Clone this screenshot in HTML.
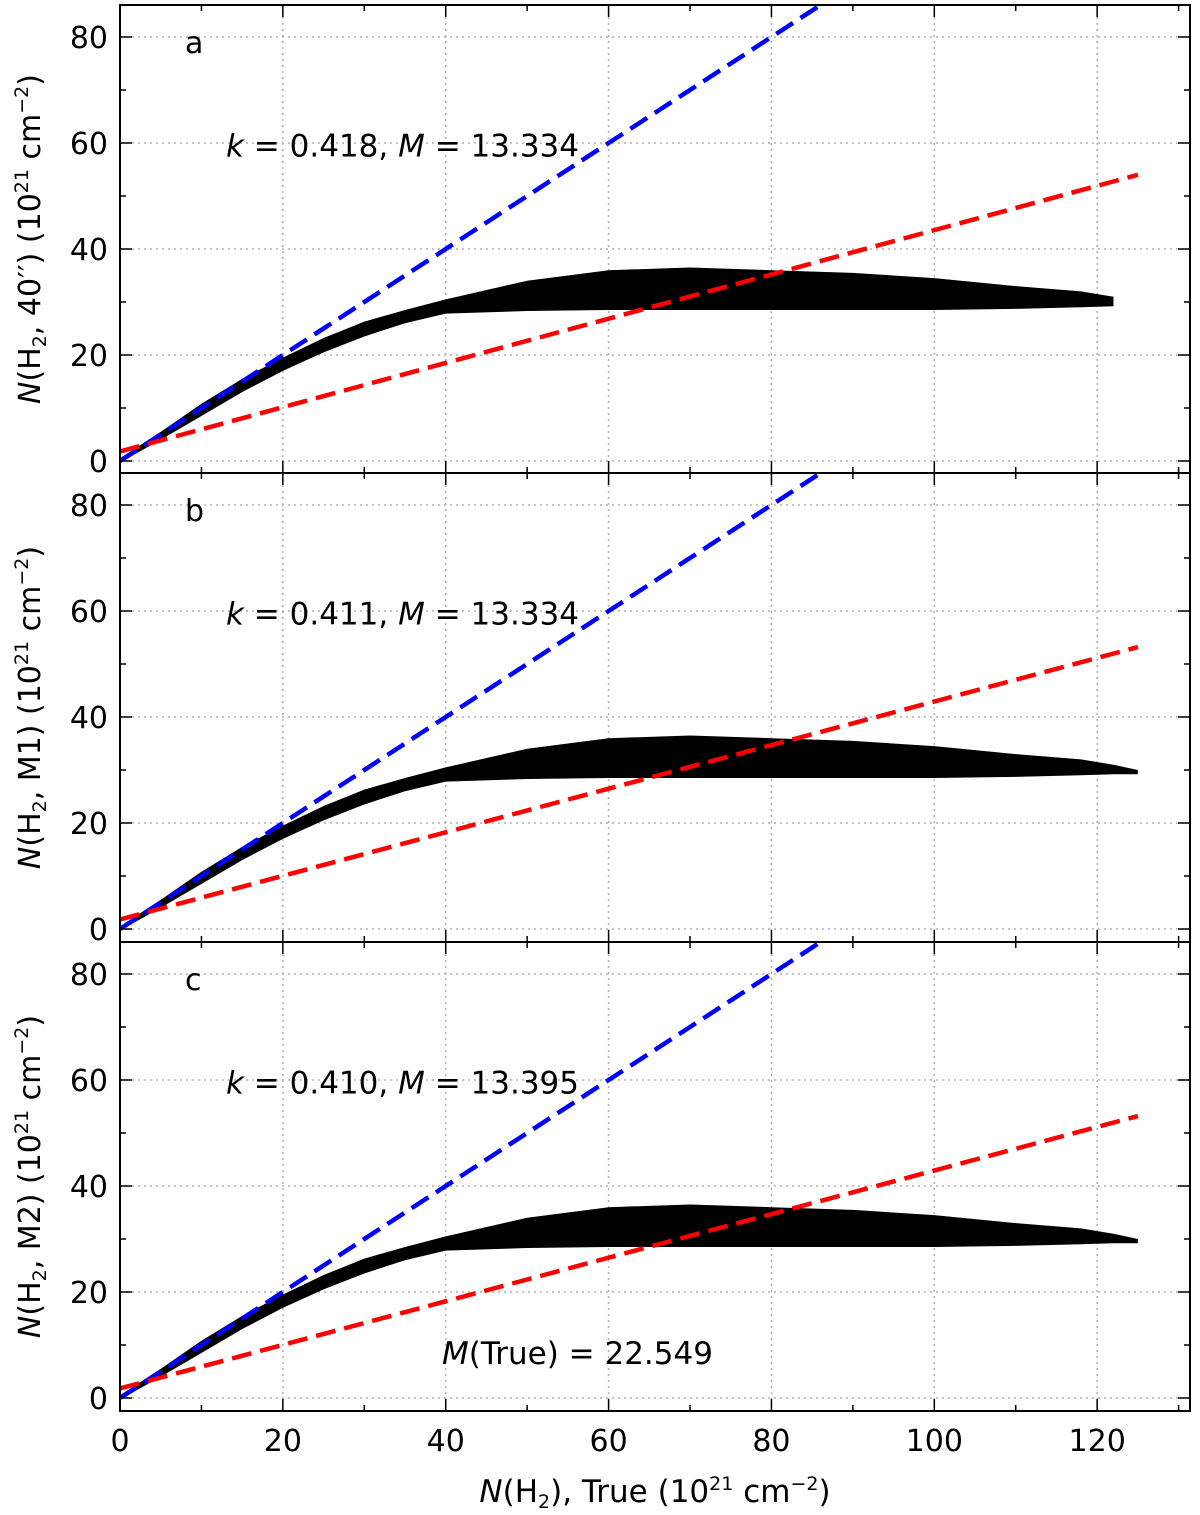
<!DOCTYPE html>
<html><head><meta charset="utf-8">
<style>
body{margin:0;background:#fff;}
svg{display:block;font-family:"DejaVu Sans","Liberation Sans",sans-serif;}
</style></head>
<body>
<svg id="chart" width="1200" height="1515" viewBox="0 0 1200 1515" xmlns="http://www.w3.org/2000/svg"></svg>
<script>
const xTicks=[0,20,40,60,80,100,120];
const yTicks=[0,20,40,60,80];
const panelLabels=['a','b','c'];
const kValues=['0.418','0.411','0.410'];
const mValues=['13.334','13.334','13.395'];
const yLabels=['40′′)','M1)','M2)'];
const redIntercepts=[1.8,1.8,1.8];
const redEnds=[54,53.2,53.2];
const redEndX=[125,125,125];
const blueSlope=[1.0,1.0,1.0];
const bandX=[0,5,10,15,20,25,30,35,40,50,60,70,80,90,100,110,118,122,125];
const bandUpper=[0.5,5.5,10.8,15.5,19.5,23.2,26.3,28.5,30.5,34,36,36.5,36,35.5,34.5,33,32,31,30];
const bandLower=[-0.3,4,8.5,13,17,20.5,23.5,26,27.8,28.3,28.5,28.5,28.5,28.5,28.5,28.7,29,29.2,29.2];
const bandEnd=[122,125,125];

const svg=document.getElementById('chart');
const NS='http://www.w3.org/2000/svg';
function mk(tag,attrs,parent){const e=document.createElementNS(NS,tag);for(const k in attrs)e.setAttribute(k,attrs[k]);(parent||svg).appendChild(e);return e;}
const L=120,R=1190;
const xMin=0,xMax=131.4;
const X=v=>L+(v-xMin)/(xMax-xMin)*(R-L);
const panels=[{top:5,bot:473,zero:461},{top:473,bot:942,zero:929},{top:942,bot:1411,zero:1398}];
const pxPerY=5.3;

panels.forEach((p,i)=>{
  const Y=v=>p.zero-v*pxPerY;
  const g=mk('g',{});
  
  
  xTicks.forEach(t=>{const l=mk('line',{x1:X(t),x2:X(t),y1:p.top,y2:p.bot,stroke:'#b0b0b0','stroke-width':1.5,'stroke-dasharray':'2,4'},g);});
  yTicks.forEach(t=>{const l=mk('line',{x1:L,x2:R,y1:Y(t),y2:Y(t),stroke:'#b0b0b0','stroke-width':1.5,'stroke-dasharray':'2,4'},g);});
  const end=bandEnd[i];
  let pts=[];
  bandX.forEach((x,j)=>{if(x<=end)pts.push(X(x)+','+Y(bandUpper[j]));});
  for(let j=bandX.length-1;j>=0;j--){if(bandX[j]<=end)pts.push(X(bandX[j])+','+Y(bandLower[j]));}
  const band=mk('polygon',{points:pts.join(' '),fill:'#000'},g);
  
  
  const cp=mk('clipPath',{id:'cp'+i},g);mk('rect',{x:L,y:p.top,width:R-L,height:p.bot-p.top},cp);
  const bx=(86)/blueSlope[i];
  const bl=mk('line',{x1:X(0),y1:Y(0),x2:X(bx),y2:Y(blueSlope[i]*bx),stroke:'#0000ff','stroke-width':4.5,'stroke-dasharray':'20,9','clip-path':'url(#cp'+i+')'},g);
  
  
  const rl=mk('line',{x1:X(0),y1:Y(redIntercepts[i]),x2:X(redEndX[i]),y2:Y(redEnds[i]),stroke:'#ff0000','stroke-width':4.5,'stroke-dasharray':'20,9'},g);
  
  
  const fr=mk('rect',{x:L,y:p.top,width:R-L,height:p.bot-p.top,fill:'none',stroke:'#000','stroke-width':2},g);
  
  for(let t=0;t<=130;t+=10){const len=t%20===0?12:6;
    mk('line',{x1:X(t),x2:X(t),y1:p.bot,y2:p.bot-len,stroke:'#000','stroke-width':1.5},g);
    mk('line',{x1:X(t),x2:X(t),y1:p.top,y2:p.top+len,stroke:'#000','stroke-width':1.5},g);}
  for(let t=0;t<=80;t+=10){const len=t%20===0?12:6;
    mk('line',{x1:L,x2:L+len,y1:Y(t),y2:Y(t),stroke:'#000','stroke-width':1.5},g);
    mk('line',{x1:R,x2:R-len,y1:Y(t),y2:Y(t),stroke:'#000','stroke-width':1.5},g);}
  yTicks.forEach(t=>{const tx=mk('text',{x:108,y:Y(t)+11,'text-anchor':'end','font-size':30},g);tx.textContent=t;});
  const pl=mk('text',{x:185,y:Y(77),'font-size':30},g);pl.textContent=panelLabels[i];
  
  const an=mk('text',{x:226,y:Y(57.5),'font-size':31},g);
  an.innerHTML='<tspan font-style="italic">k</tspan> = '+kValues[i]+',  <tspan font-style="italic">M</tspan> = '+mValues[i];
  
  const yl=mk('text',{transform:'translate(40,'+((p.top+p.bot)/2)+') rotate(-90)','text-anchor':'middle','font-size':30},g);
  yl.innerHTML='<tspan font-style="italic">N</tspan>(H<tspan font-size="19" dy="6">2</tspan><tspan dy="-6">,  '+yLabels[i]+' (10</tspan><tspan font-size="19" dy="-12">21</tspan><tspan dy="12"> cm</tspan><tspan font-size="19" dy="-12">−2</tspan><tspan dy="12">)</tspan>';
  
});
const mt=mk('text',{x:442,y:1364,'font-size':31});
mt.innerHTML='<tspan font-style="italic">M</tspan>(True) = 22.549';

xTicks.forEach(t=>{const tx=mk('text',{x:X(t),y:1451,'text-anchor':'middle','font-size':30});tx.textContent=t;});
const xl=mk('text',{x:655,y:1502,'text-anchor':'middle','font-size':31});
xl.innerHTML='<tspan font-style="italic">N</tspan>(H<tspan font-size="19" dy="6">2</tspan><tspan dy="-6">),  True (10</tspan><tspan font-size="19" dy="-12">21</tspan><tspan dy="12"> cm</tspan><tspan font-size="19" dy="-12">−2</tspan><tspan dy="12">)</tspan>';

</script>
</body></html>
